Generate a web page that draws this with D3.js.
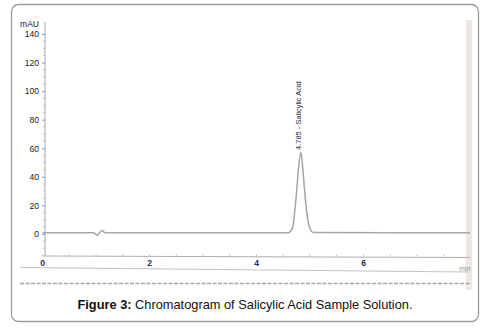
<!DOCTYPE html>
<html>
<head>
<meta charset="utf-8">
<script src="https://cdn.jsdelivr.net/npm/d3@7"></script>
<style>
  html, body { margin: 0; padding: 0; background: #fff; }
  svg { display: block; font-family: Arial, "Liberation Sans", sans-serif; }
</style>
</head>
<body>
<svg id="chart" width="491" height="328"></svg>
<script>
// retention time (min) and signal (mAU)
var times  = [0, 0.96, 1.02, 1.06, 1.11, 1.17, 4.59, 4.68, 4.71, 4.75, 4.79, 4.83, 4.86, 4.90, 4.94, 4.98, 5.01, 5.06, 7.99];
var signal = [0.9, 0.9, -1.0, 0.6, 2.4, 0.9, 0.9, 5, 14, 30, 48, 57, 48, 30, 15, 6, 3, 1, 0.9];
var yTicks = [0, 20, 40, 60, 80, 100, 120, 140];
var xTicks = [0, 2, 4, 6];
var peakLabel = {time: 4.785, text: '4.785 - Salicylic Acid'};
var caption = {bold: 'Figure 3:', rest: ' Chromatogram of Salicylic Acid Sample Solution.'};

var svg = d3.select('#chart');

// figure frame
svg.append('rect')
   .attr('x', 11.5).attr('y', 4.5)
   .attr('width', 467).attr('height', 317)
   .attr('rx', 7).attr('ry', 7)
   .style('fill', '#fff')
   .style('stroke', '#9a9a9a')
   .style('stroke-width', 1.3);

// scanner shadow at right edge
svg.append('rect')
   .attr('x', 466).attr('y', 20)
   .attr('width', 6).attr('height', 270)
   .style('fill', '#ebe7e2');

var xScale = d3.scaleLinear().domain([0, 8]).range([42.5, 470.5]);
var yScale = d3.scaleLinear().domain([0, 140]).range([234, 34]);
var axisY = 256;

var plot = svg.append('g').attr('id', 'plot');

// y axis line
plot.append('line')
    .attr('x1', 45).attr('x2', 45)
    .attr('y1', 22).attr('y2', axisY)
    .style('stroke', '#a8a8a8').style('stroke-width', 1);

var yAxis = d3.axisLeft(yScale).tickValues(yTicks).tickSize(3).tickPadding(3);
plot.append('g')
    .attr('id', 'yaxis')
    .attr('transform', 'translate(45,0)')
    .call(yAxis)
    .call(function(g){
        g.select('.domain').remove();
        g.selectAll('line').style('stroke', '#999');
        g.selectAll('text').style('font-size', '8.5px').style('fill', '#1a1a1a')
         .style('font-family', 'Arial, "Liberation Sans", sans-serif');
    });

// minor y ticks every 5 mAU
plot.append('g').attr('id', 'yminor')
    .selectAll('line')
    .data(d3.range(-10, 141, 5).filter(function(v){ return v % 20 !== 0; }))
    .enter().append('line')
    .attr('x1', 43).attr('x2', 45)
    .attr('y1', function(d){ return yScale(d); })
    .attr('y2', function(d){ return yScale(d); })
    .style('stroke', '#b5b5b5').style('stroke-width', 0.8);

plot.append('text')
    .attr('x', 39).attr('y', 27)
    .attr('text-anchor', 'end')
    .style('font-size', '8.5px').style('fill', '#1a1a1a')
    .text('mAU');

// x axis
plot.append('line')
    .attr('x1', xScale(0)).attr('x2', xScale(8))
    .attr('y1', axisY).attr('y2', axisY + 1.5)
    .style('stroke', '#b0b0b0').style('stroke-width', 1);

plot.append('g').attr('id', 'xminor')
    .selectAll('line')
    .data(d3.range(0, 8, 0.5))
    .enter().append('line')
    .attr('x1', function(d){ return xScale(d); })
    .attr('x2', function(d){ return xScale(d); })
    .attr('y1', axisY - 1.5).attr('y2', axisY + 0.5)
    .style('stroke', '#b0b0b0').style('stroke-width', 0.8);

plot.append('g').attr('id', 'xlabels')
    .selectAll('text')
    .data(xTicks)
    .enter().append('text')
    .attr('x', function(d){ return xScale(d); })
    .attr('y', 265.5)
    .attr('text-anchor', 'middle')
    .style('font-size', '8.5px').style('font-weight', 'bold')
    .style('fill', '#1c2a55')
    .text(function(d){ return d; });

plot.append('text')
    .attr('x', 459).attr('y', 271)
    .style('font-size', '7px').style('fill', '#9a9a9a')
    .text('min');

// scan artefact lines under the axis
svg.append('line')
   .attr('x1', 20).attr('x2', 468)
   .attr('y1', 267.5).attr('y2', 272)
   .style('stroke', '#c4c4c4').style('stroke-width', 1);
svg.append('line')
   .attr('x1', 20).attr('x2', 470)
   .attr('y1', 283.5).attr('y2', 283.5)
   .style('stroke', '#a9a9a9').style('stroke-width', 1.3)
   .style('stroke-dasharray', '4,1.5');

// chromatogram trace
var trace = times.map(function(t, i){ return [t, signal[i]]; });
var line = d3.line()
    .x(function(d){ return xScale(d[0]); })
    .y(function(d){ return yScale(d[1]); })
    .curve(d3.curveMonotoneX);

plot.append('path')
    .datum(trace)
    .attr('d', line)
    .style('fill', 'none')
    .style('stroke', '#a6a6a6')
    .style('stroke-width', 1.5);

// peak annotation
var lx = xScale(peakLabel.time) + 2.5;
plot.append('text')
    .attr('transform', 'translate(' + lx + ',150) rotate(-90)')
    .style('font-size', '7.5px').style('fill', '#1f2340')
    .text(peakLabel.text);

// caption
var cap = svg.append('text')
    .attr('x', 245).attr('y', 309)
    .attr('text-anchor', 'middle')
    .style('font-size', '12.8px').style('fill', '#111');
cap.append('tspan').style('font-weight', 'bold').text(caption.bold);
cap.append('tspan').text(caption.rest);
</script>
</body>
</html>
